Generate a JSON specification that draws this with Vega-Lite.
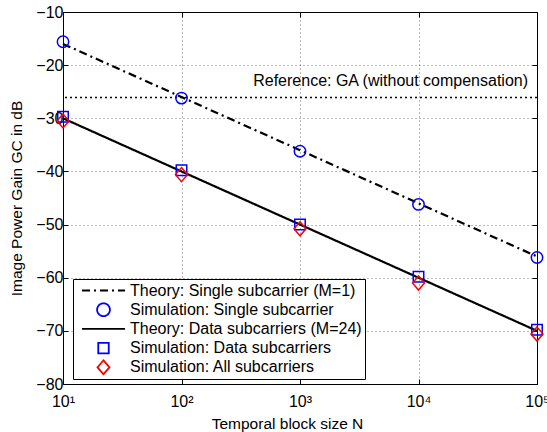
{
  "$schema": "https://vega.github.io/schema/vega-lite/v6.json",
  "width": 474,
  "height": 372,
  "autosize": {"type": "none"},
  "padding": {"left": 63, "top": 12, "right": 10, "bottom": 48},
  "background": "white",
  "config": {
    "font": "Liberation Sans",
    "view": {"stroke": "black", "strokeWidth": 1},
    "axis": {
      "domainColor": "black", "tickColor": "black", "labelColor": "black", "titleColor": "black",
      "labelFont": "Liberation Sans", "titleFont": "Liberation Sans",
      "labelFontSize": 16, "titleFontSize": 15.5, "titleFontWeight": "normal",
      "gridColor": "#000", "gridOpacity": 0.55, "gridDash": [1, 3], "gridWidth": 1,
      "tickSize": -5, "tickWidth": 1
    },
    "legend": {
      "orient": "none", "legendX": 10, "legendY": 267,
      "strokeColor": "black", "fillColor": "white", "padding": 3,
      "labelFont": "Liberation Sans", "labelFontSize": 16, "labelColor": "black", "labelLimit": 0,
      "symbolSize": 1849, "symbolStrokeWidth": 1.8, "rowPadding": 2.2, "labelOffset": 4, "symbolOffset": 5,
      "clipHeight": 17
    }
  },
  "datasets": {
    "curves": [
      {"N": 10, "gc": -16, "series": "Theory: Single subcarrier (M=1)"},
      {"N": 100, "gc": -26, "series": "Theory: Single subcarrier (M=1)"},
      {"N": 1000, "gc": -36, "series": "Theory: Single subcarrier (M=1)"},
      {"N": 10000, "gc": -46, "series": "Theory: Single subcarrier (M=1)"},
      {"N": 100000, "gc": -56, "series": "Theory: Single subcarrier (M=1)"},
      {"N": 10, "gc": -15.6, "series": "Simulation: Single subcarrier"},
      {"N": 100, "gc": -26.2, "series": "Simulation: Single subcarrier"},
      {"N": 1000, "gc": -36.2, "series": "Simulation: Single subcarrier"},
      {"N": 10000, "gc": -46.2, "series": "Simulation: Single subcarrier"},
      {"N": 100000, "gc": -56.2, "series": "Simulation: Single subcarrier"},
      {"N": 10, "gc": -30, "series": "Theory: Data subcarriers (M=24)"},
      {"N": 100, "gc": -40, "series": "Theory: Data subcarriers (M=24)"},
      {"N": 1000, "gc": -50, "series": "Theory: Data subcarriers (M=24)"},
      {"N": 10000, "gc": -60, "series": "Theory: Data subcarriers (M=24)"},
      {"N": 100000, "gc": -70, "series": "Theory: Data subcarriers (M=24)"},
      {"N": 10, "gc": -29.7, "series": "Simulation: Data subcarriers"},
      {"N": 100, "gc": -39.8, "series": "Simulation: Data subcarriers"},
      {"N": 1000, "gc": -50, "series": "Simulation: Data subcarriers"},
      {"N": 10000, "gc": -59.8, "series": "Simulation: Data subcarriers"},
      {"N": 100000, "gc": -69.8, "series": "Simulation: Data subcarriers"},
      {"N": 10, "gc": -30.5, "series": "Simulation: All subcarriers"},
      {"N": 100, "gc": -40.6, "series": "Simulation: All subcarriers"},
      {"N": 1000, "gc": -50.8, "series": "Simulation: All subcarriers"},
      {"N": 10000, "gc": -61, "series": "Simulation: All subcarriers"},
      {"N": 100000, "gc": -70.6, "series": "Simulation: All subcarriers"}
    ],
    "annotation": [
      {"N": 84000, "gc": -23, "label": "Reference: GA (without compensation)", "ref": -26.1}
    ]
  },
  "layer": [
    {
      "data": {"name": "annotation"},
      "mark": {"type": "rule", "color": "black", "strokeWidth": 1.5, "strokeDash": [2, 3]},
      "encoding": {
        "y": {"field": "ref", "type": "quantitative", "axis": null}
      }
    },
    {
      "data": {"name": "curves"},
      "transform": [{"filter": "indexof(datum.series, 'Theory') === 0"}],
      "mark": {"type": "line", "strokeWidth": 2.2},
      "encoding": {
        "x": {
          "field": "N", "type": "quantitative",
          "scale": {"type": "log", "domain": [10, 100000], "nice": false},
          "axis": {
            "title": "Temporal block size N", "values": [10, 100, 1000, 10000, 100000],
            "grid": true, "labelFlush": false, "labelPadding": 14, "titlePadding": 7, "titleX": 224,
            "labelExpr": "'10' + ['⁰','¹','²','³','⁴','⁵'][round(log(datum.value)/LN10)]"
          }
        },
        "y": {
          "field": "gc", "type": "quantitative",
          "scale": {"domain": [-80, -10], "nice": false, "zero": false},
          "axis": {
            "title": "Image Power Gain GC in dB", "values": [-80, -70, -60, -50, -40, -30, -20, -10],
            "grid": true, "labelPadding": 5, "titlePadding": 11
          }
        },
        "color": {
          "field": "series", "type": "nominal",
          "scale": {
            "domain": ["Theory: Single subcarrier (M=1)", "Simulation: Single subcarrier", "Theory: Data subcarriers (M=24)", "Simulation: Data subcarriers", "Simulation: All subcarriers"],
            "range": ["black", "blue", "black", "blue", "red"]
          },
          "legend": {"title": null}
        },
        "strokeDash": {
          "field": "series", "type": "nominal",
          "scale": {
            "domain": ["Theory: Single subcarrier (M=1)", "Simulation: Single subcarrier", "Theory: Data subcarriers (M=24)", "Simulation: Data subcarriers", "Simulation: All subcarriers"],
            "range": [[8, 4, 2, 4], [1, 0], [1, 0], [1, 0], [1, 0]]
          },
          "legend": {"title": null}
        }
      }
    },
    {
      "data": {"name": "curves"},
      "transform": [{"filter": "datum.series === 'Simulation: Single subcarrier'"}],
      "mark": {"type": "point", "shape": "circle", "filled": false, "size": 130, "strokeWidth": 1.5, "opacity": 1, "clip": false},
      "encoding": {
        "x": {"field": "N", "type": "quantitative", "axis": null},
        "y": {"field": "gc", "type": "quantitative", "axis": null},
        "color": {"field": "series", "type": "nominal"}
      }
    },
    {
      "data": {"name": "curves"},
      "transform": [{"filter": "datum.series === 'Simulation: Data subcarriers'"}],
      "mark": {"type": "point", "shape": "square", "filled": false, "size": 110, "strokeWidth": 1.5, "opacity": 1},
      "encoding": {
        "x": {"field": "N", "type": "quantitative", "axis": null},
        "y": {"field": "gc", "type": "quantitative", "axis": null},
        "color": {"field": "series", "type": "nominal"}
      }
    },
    {
      "data": {"name": "curves"},
      "transform": [{"filter": "datum.series === 'Simulation: All subcarriers'"}],
      "mark": {"type": "point", "shape": "M0,-1.17L1,0L0,1.17L-1,0Z", "filled": false, "size": 144, "strokeWidth": 1.5, "opacity": 1},
      "encoding": {
        "x": {"field": "N", "type": "quantitative", "axis": null},
        "y": {"field": "gc", "type": "quantitative", "axis": null},
        "color": {"field": "series", "type": "nominal"}
      }
    },
    {
      "data": {"name": "curves"},
      "transform": [{"filter": "datum.gc > 0"}],
      "mark": {"type": "point", "filled": false, "strokeWidth": 1.5, "opacity": 1},
      "encoding": {
        "x": {"field": "N", "type": "quantitative", "axis": null},
        "y": {"field": "gc", "type": "quantitative", "axis": null},
        "color": {"field": "series", "type": "nominal"},
        "shape": {
          "field": "series", "type": "nominal",
          "scale": {
            "domain": ["Theory: Single subcarrier (M=1)", "Simulation: Single subcarrier", "Theory: Data subcarriers (M=24)", "Simulation: Data subcarriers", "Simulation: All subcarriers"],
            "range": [
              "M-1,0H1",
              "M-0.2977,0A0.2977,0.2977,0,1,1,0.2977,0A0.2977,0.2977,0,1,1,-0.2977,0Z",
              "M-1,0H1",
              "M-0.244,-0.244H0.244V0.244H-0.244Z",
              "M0,-0.326L0.279,0L0,0.326L-0.279,0Z"
            ]
          },
          "legend": {"title": null}
        }
      }
    },
    {
      "data": {"name": "annotation"},
      "mark": {"type": "text", "align": "right", "baseline": "middle", "fontSize": 16, "font": "Liberation Sans", "color": "black"},
      "encoding": {
        "x": {"field": "N", "type": "quantitative",
          "axis": {"orient": "top", "labels": false, "grid": false, "domain": false, "title": null, "values": [10, 100, 1000, 10000, 100000]}},
        "y": {"field": "gc", "type": "quantitative",
          "axis": {"orient": "right", "labels": false, "grid": false, "domain": false, "title": null, "values": [-80, -70, -60, -50, -40, -30, -20, -10]}},
        "text": {"field": "label"}
      }
    }
  ],
  "resolve": {"axis": {"x": "independent", "y": "independent"}}
}
